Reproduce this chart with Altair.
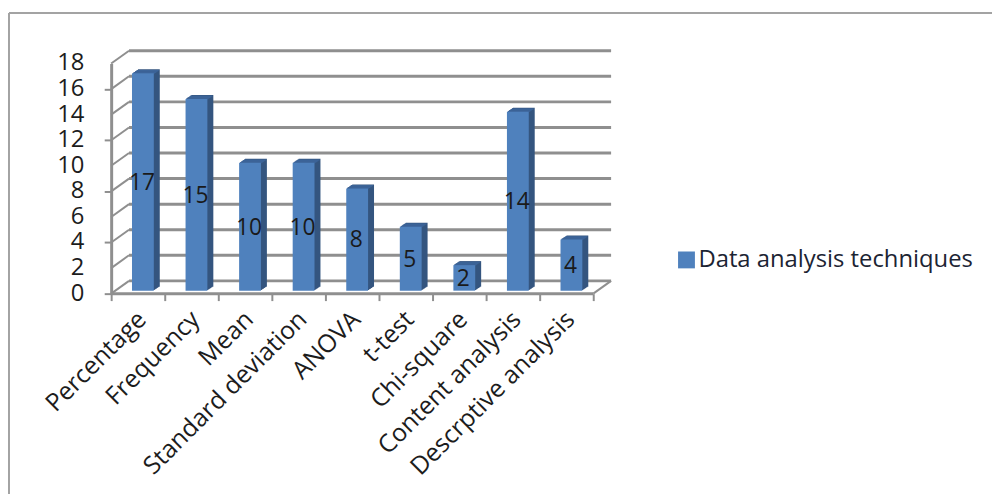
import altair as alt
import pandas as pd

categories = ["Percentage", "Frequency", "Mean", "Standard deviation", "ANOVA", "t-test",
              "Chi-square", "Content analysis", "Descrptive analysis"]
values = [17, 15, 10, 10, 8, 5, 2, 14, 4]
ticks = [0, 2, 4, 6, 8, 10, 12, 14, 16, 18]
series = "Data analysis techniques"

FONT = "Open Sans"
GRID = "#8f8f8f"
FRONT = "#4f81bd"
SIDE = "#34557f"
TOP = "#3d659a"

df = pd.DataFrame({"cat": categories, "v": values, "s": series, "mid": [v / 2 for v in values]})
tk = pd.DataFrame({"t": ticks, "back": [t + 1 for t in ticks]})
floor = pd.DataFrame({"t": [0], "back": [1]})

xscale = alt.Scale(domain=categories, paddingInner=0, paddingOuter=0)
yscale = alt.Scale(domain=[0, 18], nice=False, zero=False)
W, H = 486, 232

# axes + first layer
axes = alt.Chart(df).mark_bar(opacity=0).encode(
    x=alt.X("cat:N", sort=None, scale=xscale, title=None,
            axis=alt.Axis(labelAngle=-45, labelAlign="right", labelBaseline="top",
                          labelFont=FONT, labelFontSize=25, labelColor="#1c1c1c", labelOffset=-5,
                          labelPadding=6, tickBand="extent", tickColor=GRID, tickWidth=2, tickSize=7,
                          domain=False, grid=False, labelLimit=300)),
    y=alt.Y("v:Q", scale=yscale, title=None,
            axis=alt.Axis(values=ticks, labels=False, tickColor=GRID, tickWidth=2, tickSize=7,
                          domainColor=GRID, domainWidth=3, grid=False)),
)

# value axis labels
ytext = alt.Chart(tk).mark_text(font=FONT, fontSize=24, color="#1c1c1c", align="right", baseline="middle").encode(
    x=alt.value(-27), y=alt.Y("t:Q", scale=yscale), text="t:Q")

slant = alt.Chart(tk).mark_rule(color=GRID, strokeWidth=2).encode(
    x=alt.value(0), x2=alt.value(18),
    y=alt.Y("t:Q", scale=yscale), y2="back:Q")
back = alt.Chart(tk).mark_rule(color=GRID, strokeWidth=3).encode(
    x=alt.value(18), x2=alt.value(W + 18),
    y=alt.Y("back:Q", scale=yscale))
floor_front = alt.Chart(floor).mark_rule(color=GRID, strokeWidth=3).encode(
    x=alt.value(0), x2=alt.value(W),
    y=alt.Y("t:Q", scale=yscale))
floor_side = alt.Chart(floor).mark_rule(color=GRID, strokeWidth=2).encode(
    x=alt.value(W), x2=alt.value(W + 18),
    y=alt.Y("t:Q", scale=yscale), y2="back:Q")

# chart frame
frame_left = alt.Chart(floor).mark_rule(color="#a3a3a3", strokeWidth=2).encode(
    x=alt.value(-103), y=alt.value(-51), y2=alt.value(440))
frame_top = alt.Chart(floor).mark_rule(color="#a3a3a3", strokeWidth=2).encode(
    x=alt.value(-103), x2=alt.value(890), y=alt.value(-51))

layers = [axes, frame_left, frame_top, ytext, slant, back, floor_front, floor_side]

enc_x = alt.X("cat:N", sort=None, scale=xscale)
enc_y = alt.Y("v:Q", scale=yscale)
for i in range(1, 7):
    layers.append(alt.Chart(df).mark_bar(size=22, color=SIDE, xOffset=5 + i, yOffset=-3 - i * 0.67,
                                         y2Offset=-3 - i * 0.67).encode(x=enc_x, y=enc_y, y2=alt.datum(0)))
for i in range(1, 6):
    layers.append(alt.Chart(df).mark_bar(size=22, color=TOP, xOffset=5 + i, yOffset=-3 - i * 0.67,
                                         y2Offset=-2 - i * 0.67).encode(x=enc_x, y=enc_y, y2="v:Q"))

front = alt.Chart(df).mark_bar(size=22, xOffset=5, yOffset=-3, y2Offset=-3).encode(
    x=enc_x, y=enc_y, y2=alt.datum(0),
    color=alt.Color("s:N", scale=alt.Scale(domain=[series], range=[FRONT]),
                    legend=alt.Legend(title=None, orient="none", legendX=568, legendY=186,
                                      symbolType="square", symbolSize=289, symbolStrokeWidth=0,
                                      labelFont=FONT, labelFontSize=24, labelColor="#1c2433",
                                      labelLimit=400, labelOffset=0)))
labels = alt.Chart(df).mark_text(font=FONT, fontSize=23, color="#1a1a1a", dx=4, dy=-2).encode(
    x=enc_x, y=alt.Y("mid:Q", scale=yscale), text="v:Q")

chart = alt.layer(*layers, front, labels).properties(
    width=W, height=H,
    autosize=alt.AutoSizeParams(type="none"),
    padding={"left": 104, "top": 54, "right": 402, "bottom": 200},
    background="white",
).configure_view(stroke=None).configure_axis(labelOverlap=False, labelBound=False, labelFlush=False)

chart.save("out.html", embed_options={"renderer": "svg", "actions": False})
